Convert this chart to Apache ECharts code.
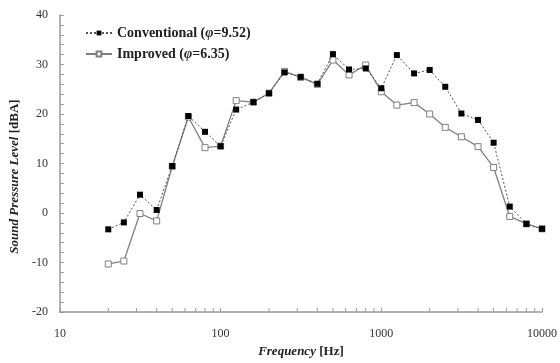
<!DOCTYPE html>
<html>
<head>
<meta charset="utf-8">
<script src="https://cdn.jsdelivr.net/npm/echarts@6/dist/echarts.min.js"></script>
<style>
  html, body { margin: 0; padding: 0; background: #fff; }
  #chart { width: 560px; height: 363px; }
</style>
</head>
<body>
<div id="chart"></div>
<script>
// 1/3 octave band centre frequencies [Hz]
const FREQS = [20, 25, 31.5, 40, 50, 63, 80, 100, 125, 160, 200, 250, 315, 400, 500,
  630, 800, 1000, 1250, 1600, 2000, 2500, 3150, 4000, 5000, 6300, 8000, 10000];

const CONVENTIONAL = [-3.3, -1.9, 3.7, 0.6, 9.5, 19.6, 16.4, 13.5, 20.9, 22.4, 24.2, 28.4, 27.5, 26.1, 32.1,
  29.0, 29.2, 25.2, 31.9, 28.2, 28.9, 25.5, 20.1, 18.8, 14.2, 1.3, -2.2, -3.2];

const IMPROVED = [-10.3, -9.7, -0.1, -1.6, 9.4, 19.4, 13.2, 13.5, 22.7, 22.4, 24.2, 28.6, 27.4, 26.0, 30.9,
  27.9, 29.9, 24.5, 21.8, 22.3, 20.0, 17.3, 15.4, 13.4, 9.2, -0.7, -2.2, -3.2];

// minor ticks of the log frequency axis
const MINOR_X = [20, 30, 40, 50, 60, 70, 80, 90, 200, 300, 400, 500, 600, 700, 800, 900,
  2000, 3000, 4000, 5000, 6000, 7000, 8000, 9000];

const SERIF = "'Liberation Serif', 'Times New Roman', serif";
const AXIS_GRAY = "#9a9a9a";
const NAMES = ["Conventional", "Improved"];

const chart = echarts.init(document.getElementById("chart"));

const pairs = (ys) => FREQS.map((f, i) => [f, ys[i]]);

const nameRich = {
  i: { fontFamily: SERIF, fontSize: 13, fontWeight: "bold", fontStyle: "italic", color: "#222" },
  n: { fontFamily: SERIF, fontSize: 13, fontWeight: "bold", color: "#222" },
};

chart.setOption({
  animation: false,
  backgroundColor: "#fff",
  grid: { left: 53, right: 16, top: 15, bottom: 50 },
  legend: {
    data: NAMES,
    orient: "vertical",
    left: 80,
    top: 21,
    itemWidth: 26,
    itemHeight: 6,
    itemGap: 7,
    formatter: (name) =>
      name === "Conventional"
        ? "{b|Conventional (}{i|φ}{b|=9.52)}"
        : "{b|Improved (}{i|φ}{b|=6.35)}",
    textStyle: {
      fontFamily: SERIF,
      fontSize: 14,
      fontWeight: "bold",
      color: "#222",
      rich: {
        b: { fontFamily: SERIF, fontSize: 14, fontWeight: "bold", color: "#222" },
        i: { fontFamily: SERIF, fontSize: 14, fontWeight: "bold", fontStyle: "italic", color: "#222" },
      },
    },
  },
  xAxis: {
    type: "log",
    logBase: 10,
    min: 10,
    max: 10000,
    name: "{i|Frequency} {n|[Hz]}",
    nameLocation: "middle",
    nameGap: 33,
    nameTextStyle: { rich: nameRich },
    axisLine: { onZero: false, lineStyle: { color: AXIS_GRAY, width: 1.5 } },
    axisTick: { inside: true, length: 4, lineStyle: { color: AXIS_GRAY } },
    axisLabel: {
      fontFamily: SERIF, fontSize: 12, color: "#333", margin: 16,
      formatter: (v) => String(v),
    },
    splitLine: { show: false },
  },
  yAxis: {
    type: "value",
    min: -20,
    max: 40,
    interval: 10,
    name: "{i|Sound Pressure Level} {n|[dBA]}",
    nameLocation: "middle",
    nameGap: 36,
    nameTextStyle: { rich: nameRich, padding: [0, 26, 0, 0] },
    axisLine: { show: true, onZero: false, lineStyle: { color: AXIS_GRAY, width: 1.5 } },
    axisTick: { show: true, inside: true, length: 4, lineStyle: { color: AXIS_GRAY } },
    minorTick: { show: true, splitNumber: 5, length: 4, lineStyle: { color: AXIS_GRAY } },
    axisLabel: { fontFamily: SERIF, fontSize: 12, color: "#333", margin: 12 },
    splitLine: { show: false },
  },
  series: [
    {
      name: "Improved",
      type: "line",
      data: pairs(IMPROVED),
      symbol: "rect",
      symbolSize: 6,
      lineStyle: { color: "#808080", width: 1.3 },
      itemStyle: { color: "#fff", borderColor: "#808080", borderWidth: 1 },
      z: 2,
    },
    {
      name: "Conventional",
      type: "line",
      data: pairs(CONVENTIONAL),
      symbol: "rect",
      symbolSize: 6,
      lineStyle: { color: "#555", width: 1, type: [2, 2] },
      itemStyle: { color: "#000", borderColor: "#000", borderWidth: 0 },
      z: 3,
    },
    {
      type: "custom",
      silent: true,
      data: MINOR_X.map((f) => [f, -20]),
      renderItem: (params, api) => {
        const p = api.coord([api.value(0), api.value(1)]);
        return {
          type: "line",
          shape: { x1: p[0], y1: p[1], x2: p[0], y2: p[1] - 4 },
          style: { stroke: AXIS_GRAY, lineWidth: 1 },
        };
      },
      z: 1,
    },
  ],
});
</script>
</body>
</html>
